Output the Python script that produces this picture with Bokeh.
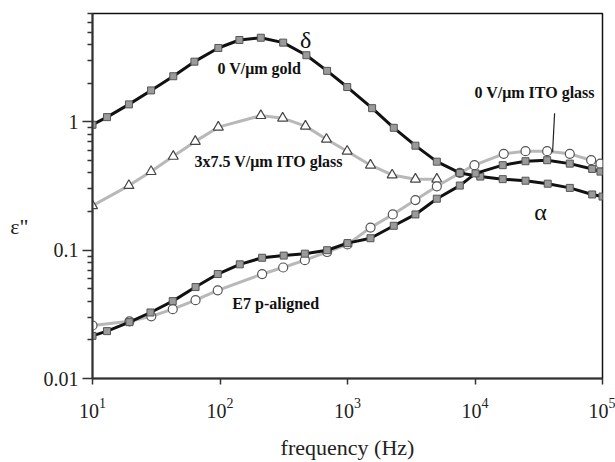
from bokeh.plotting import figure
from bokeh.models import FixedTicker, CustomJSTickFormatter, Label, ColumnDataSource
from bokeh.embed import file_html
from bokeh.resources import INLINE

# ---- data ----
# 0 V/um gold (delta / alpha relaxations), black squares
gold_f = [10, 13, 19.3, 28.8, 43, 63, 97, 142, 209, 313, 476, 692, 995, 1560, 2306,
          3410, 5020, 7600, 11000, 16500, 24900, 37200, 55400, 83000, 100000]
gold_e = [0.95, 1.09, 1.37, 1.76, 2.27, 2.95, 3.77, 4.35, 4.53, 4.15, 3.31, 2.50, 1.87, 1.28, 0.90,
          0.653, 0.49, 0.40, 0.375, 0.358, 0.348, 0.33, 0.306, 0.272, 0.262]

# 3x7.5 V/um ITO glass, open triangles
ito75_f = [10, 19.3, 28.8, 43, 64, 97, 209, 310, 468, 684, 994, 1515, 2240, 3410, 5020]
ito75_e = [0.222, 0.319, 0.41, 0.539, 0.705, 0.91, 1.12, 1.07, 0.927, 0.733, 0.591, 0.46, 0.386, 0.358, 0.358]

# 0 V/um ITO glass, open circles
ito0_f = [10, 19.5, 28.9, 42.6, 64.3, 96, 214, 313, 463, 692, 1000, 1515, 2265, 3410, 5020,
          7600, 9900, 16800, 24900, 36800, 55400, 81500, 96400]
ito0_e = [0.0259, 0.0279, 0.0305, 0.0347, 0.0408, 0.0487, 0.0652, 0.0733, 0.0836, 0.0968, 0.111,
          0.150, 0.19, 0.246, 0.315, 0.40, 0.46, 0.564, 0.591, 0.591, 0.564, 0.503, 0.473]

# E7 p-aligned, black squares
e7_f = [10, 13, 19.5, 28.5, 42.6, 64.3, 96, 143, 214, 316, 463, 692, 1000, 1515, 2306,
        3410, 5020, 7600, 10100, 16500, 24900, 36800, 55400, 83000, 96400]
e7_e = [0.0215, 0.0234, 0.0275, 0.0327, 0.0401, 0.0516, 0.0652, 0.0776, 0.0873, 0.0908, 0.094,
        0.10, 0.1135, 0.124, 0.155, 0.19, 0.252, 0.319, 0.397, 0.46, 0.494, 0.503, 0.473, 0.43, 0.41]

x_ticks = [10, 100, 1000, 10000, 100000]
y_ticks = [0.01, 0.1, 1]
y_minor = [m * d for d in (0.01, 0.1, 1) for m in range(2, 10) if m * d < 7.5]

SERIF = "Liberation Serif"

p = figure(width=615, height=462, x_axis_type="log", y_axis_type="log",
           x_range=(10, 1e5), y_range=(0.01, 7.0),
           output_backend="svg", toolbar_location=None,
           min_border_left=92, min_border_right=13, min_border_top=13, min_border_bottom=75)
p.grid.visible = False
p.outline_line_color = "#111111"
p.outline_line_width = 1.5
p.background_fill_color = "white"
p.border_fill_color = "white"

# axes
p.xaxis.ticker = FixedTicker(ticks=x_ticks, minor_ticks=[])
p.yaxis.ticker = FixedTicker(ticks=y_ticks, minor_ticks=y_minor)
p.yaxis.formatter = CustomJSTickFormatter(code="return tick >= 1 ? tick.toFixed(0) : tick.toPrecision(1);")
for ax in (p.xaxis[0], p.yaxis[0]):
    ax.axis_line_color = "#333333"
    ax.axis_line_width = 2
    ax.major_tick_line_color = "#333333"
    ax.minor_tick_line_color = "#333333"
    ax.major_tick_line_width = 1.5
    ax.minor_tick_line_width = 1.5
    ax.major_tick_in = 0
    ax.minor_tick_in = 0
    ax.major_label_text_font = SERIF
    ax.major_label_text_font_size = "20px"
    ax.major_label_text_color = "#222222"
    ax.axis_label_text_font = SERIF
    ax.axis_label_text_font_style = "normal"
    ax.axis_label_text_color = "#222222"

p.xaxis.major_tick_out = 6
p.xaxis.minor_tick_out = 0
p.xaxis.major_label_standoff = 13
p.xaxis.axis_label = "frequency (Hz)"
p.xaxis.axis_label_text_font_size = "22px"
p.xaxis.axis_label_standoff = 14

p.yaxis.major_tick_out = 10
p.yaxis.minor_tick_out = 5
p.yaxis.major_label_standoff = 4
p.yaxis.axis_label = "\n\n\u03b5\""
p.yaxis.axis_label_orientation = "horizontal"
p.yaxis.axis_label_text_font_size = "22px"
p.yaxis.axis_label_standoff = 12

GRAY_LINE = "#b8b8b8"
BLACK_LINE = "#111111"

# gray series
p.line(ito75_f, ito75_e, line_color=GRAY_LINE, line_width=3)
p.scatter(ito75_f, ito75_e, marker="triangle", size=10, fill_color="white",
          line_color="#444444", line_width=1.2)
p.line(ito0_f, ito0_e, line_color=GRAY_LINE, line_width=3)
p.scatter(ito0_f, ito0_e, marker="circle", size=9, fill_color="white",
          line_color="#555555", line_width=1.2)

# black series
p.line(gold_f, gold_e, line_color=BLACK_LINE, line_width=3)
p.scatter(gold_f, gold_e, marker="square", size=7, fill_color="#9a9a9a",
          line_color="#555555", line_width=1)
p.line(e7_f, e7_e, line_color=BLACK_LINE, line_width=3)
p.scatter(e7_f, e7_e, marker="square", size=7, fill_color="#9a9a9a",
          line_color="#555555", line_width=1)

# annotations
def lab(x, y, text, size="16px", style="bold", align="left", color="#111111"):
    p.add_layout(Label(x=x, y=y, text=text, text_font=SERIF, text_font_size=size,
                       text_font_style=style, text_align=align, text_baseline="middle",
                       text_color=color))

lab(95.5, 2.62, "0 V/\u03bcm gold")
lab(63.1, 0.488, "3x7.5 V/\u03bcm ITO glass")
lab(9910, 1.69, "0 V/\u03bcm ITO glass")
lab(125, 0.0385, "E7 p-aligned")
lab(469, 4.35, "\u03b4", size="24px", style="normal", align="center")
lab(32700, 0.20, "\u03b1", size="24px", style="normal", align="center")

arrow = ColumnDataSource(dict(x0=[42100], y0=[1.17], x1=[40600], y1=[0.58]))
p.segment(x0="x0", y0="y0", x1="x1", y1="y1", source=arrow, line_color="#222222", line_width=1.2)

open("out.html", "w").write(file_html(p, INLINE))
